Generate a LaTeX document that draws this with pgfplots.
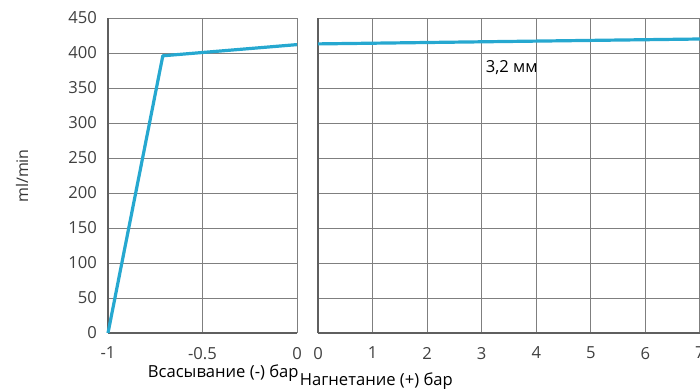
\documentclass[border=0pt]{standalone}
\usepackage{pgfplots}
\pgfplotsset{compat=1.18}
\usepackage{fontspec}
\setmainfont{Open Sans}
\definecolor{linec}{RGB}{38,168,208}
\definecolor{gridc}{RGB}{95,95,95}
\begin{document}
\begin{tikzpicture}
\useasboundingbox (0,0) rectangle (350pt,195pt);
\pgfplotsset{
  every axis/.append style={
    scale only axis,
    anchor=south west,
    height=157.5pt,
    ymin=0, ymax=450,
    ytick={0,50,...,450},
    axis lines*=left,
    axis line style={-, draw=gridc, line width=0.6pt},
    grid=major,
    major grid style={draw=gridc!80, line width=0.5pt},
    major tick length=0pt,
    tick label style={font=\fontsize{8.3}{9}\selectfont, text=black!75},
    /pgf/number format/assume math mode=true,
    clip=false,
  }
}
\begin{axis}[
  at={(54pt,28.5pt)},
  width=94.5pt,
  xmin=-1, xmax=0,
  xtick={-1,-0.5,0},
  xticklabels={-1,-0.5,0},
  xticklabel style={yshift=-3.5pt},
  yticklabel style={xshift=-2pt},
]
\addplot[linec, line width=1.6pt, line join=round] coordinates {(-1,0) (-0.71,396) (0,412)};
\node[font=\fontsize{8.3}{9}\selectfont, anchor=center, inner sep=0pt] at (axis cs:-0.39,-57) {Всасывание (-) бар};
\end{axis}
\begin{axis}[
  at={(159pt,28.5pt)},
  width=191pt,
  xmin=0, xmax=7,
  xtick={0,1,...,7},
  xticklabel style={yshift=-3.5pt},
  yticklabels={},
]
\addplot[linec, line width=1.6pt, line join=round] coordinates {(0,413) (7,420)};
\node[font=\fontsize{8.3}{9}\selectfont, anchor=west, inner sep=0pt] at (axis cs:-0.34,-69) {Нагнетание (+) бар};
\node[font=\fontsize{8.3}{9}\selectfont] at (axis cs:3.55,379) {3,2 мм};
\end{axis}
\node[rotate=90, font=\fontsize{8}{9}\selectfont, text=black!80] at (11pt,107pt) {ml/min};
\end{tikzpicture}
\end{document}
